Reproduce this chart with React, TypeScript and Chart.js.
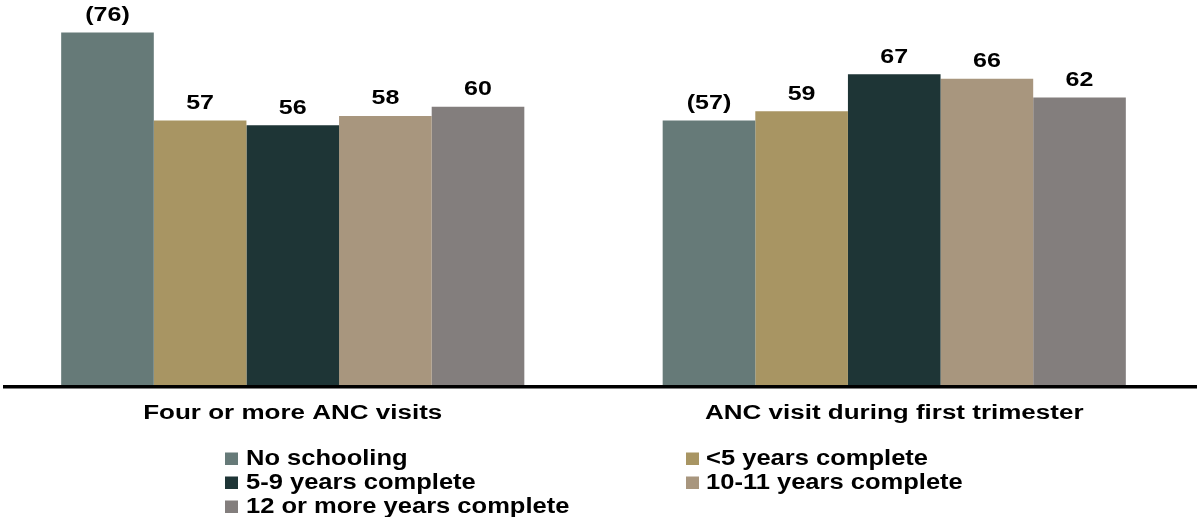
import React, { useEffect, useRef } from "react";
import { Chart, registerables } from "chart.js";

Chart.register(...registerables);

const categories = ["Four or more ANC visits", "ANC visit during first trimester"];
const seriesNames = [
  "No schooling",
  "<5 years complete",
  "5-9 years complete",
  "10-11 years complete",
  "12 or more years complete",
];
const noSchooling = [76, 57];
const under5Years = [57, 59];
const years5to9 = [56, 67];
const years10to11 = [58, 66];
const years12plus = [60, 62];
// values based on few cases are shown in parentheses
const smallSample = [true, false, false, false, false];
const seriesColors = ["#667A78", "#A89563", "#1E3536", "#A8967E", "#837E7D"];

const FONT = "'Liberation Sans', Arial, sans-serif";

function drawStretched(
  ctx: CanvasRenderingContext2D,
  text: string,
  x: number,
  y: number,
  size: number,
  sx: number,
  align: CanvasTextAlign
) {
  ctx.save();
  ctx.translate(x, y);
  ctx.scale(sx, 1);
  ctx.font = `bold ${size}px ${FONT}`;
  ctx.textAlign = align;
  ctx.textBaseline = "alphabetic";
  ctx.fillStyle = "#000000";
  ctx.fillText(text, 0, 0);
  ctx.restore();
}

const annotatePlugin = {
  id: "annotate",
  afterDatasetsDraw(chart: any) {
    const ctx: CanvasRenderingContext2D = chart.ctx;
    const xScale = chart.scales.x;
    // axis line
    ctx.save();
    ctx.fillStyle = "#000000";
    ctx.fillRect(11, chart.chartArea.bottom, chart.width - 11, 3.5);
    ctx.restore();
    // value labels
    chart.data.datasets.forEach((ds: any, i: number) => {
      const meta = chart.getDatasetMeta(i);
      meta.data.forEach((bar: any, j: number) => {
        const v = ds.data[j];
        const txt = smallSample[i] ? `(${v})` : `${v}`;
        drawStretched(ctx, txt, bar.x, bar.y - 11.5, 20, 1.25, "center");
      });
    });
    // category labels
    categories.forEach((c, j) => {
      drawStretched(ctx, c, xScale.getPixelForValue(j), 419, 20, 1.3, "center");
    });
    // legend (two columns, row-major)
    const colSquareX = [233, 694];
    const colTextX = [254, 714];
    const rowBase = [465, 489, 513];
    chart.data.datasets.forEach((ds: any, i: number) => {
      const col = i % 2;
      const row = Math.floor(i / 2);
      ctx.save();
      ctx.fillStyle = ds.backgroundColor;
      ctx.fillRect(colSquareX[col], rowBase[row] - 12.5, 13, 12.5);
      ctx.restore();
      drawStretched(ctx, ds.label, colTextX[col], rowBase[row], 22, 1.16, "left");
    });
  },
};

export default function App() {
  const ref = useRef<HTMLCanvasElement | null>(null);
  useEffect(() => {
    if (!ref.current) return;
    const seriesValues = [noSchooling, under5Years, years5to9, years10to11, years12plus];
    const chart = new Chart(ref.current, {
      type: "bar",
      data: {
        labels: categories,
        datasets: seriesNames.map((name, i) => ({
          label: name,
          data: seriesValues[i],
          backgroundColor: seriesColors[i],
          borderWidth: 0,
          barPercentage: 1,
          categoryPercentage: 0.77,
        })),
      },
      options: {
        responsive: false,
        animation: false,
        devicePixelRatio: 1,
        layout: { padding: { left: 0, right: 2, top: 0, bottom: 132 } },
        plugins: {
          legend: { display: false },
          tooltip: { enabled: false },
          title: { display: false },
        },
        scales: {
          x: { display: false, grid: { display: false } },
          y: { display: false, min: 0, max: 83, grid: { display: false } },
        },
      },
      plugins: [annotatePlugin],
    });
    return () => chart.destroy();
  }, []);
  return (
    <div style={{ position: "fixed", left: -8, top: 0, width: 1205, height: 517, background: "#fff" }}>
      <canvas ref={ref} width={1205} height={517} style={{ display: "block" }} />
    </div>
  );
}
